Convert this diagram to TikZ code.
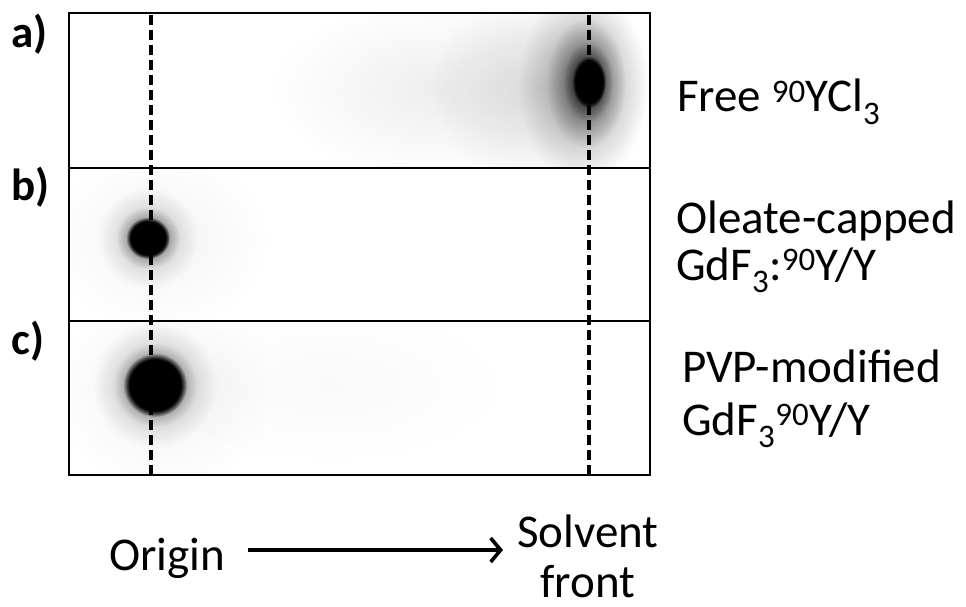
\documentclass[tikz,border=0pt]{standalone}
\usepackage{fontspec}
\setmainfont{Carlito}
\usetikzlibrary{fadings,arrows.meta}
\tikzfading[name=softfade, inner color=transparent!0, outer color=transparent!100]
\begin{document}
\begin{tikzpicture}[x=1pt,y=-1pt,
  lbl/.style={inner sep=0pt, anchor=base west, font=\fontsize{47}{56}\selectfont},
  tag/.style={inner sep=0pt, anchor=base west, font=\fontsize{45}{54}\selectfont\bfseries},
  frame/.style={line width=2.6pt},
  guide/.style={line width=3.6pt, dash pattern=on 10pt off 5pt},
  spot/.style={fill=black, path fading=circle with fuzzy edge 20 percent},
  halo/.style={fill=black, path fading=softfade}]
\useasboundingbox (0,0) rectangle (966,607);
% ---- panel a spots
\begin{scope}
  \clip (69,13) rectangle (650,168);
  \fill[halo, opacity=0.07] (440,90) ellipse (170 and 90);
  \fill[halo, opacity=0.12] (540,88) ellipse (110 and 100);
  \fill[halo, opacity=0.35] (583,85) ellipse (65 and 100);
  \fill[halo, opacity=0.6] (586,83) ellipse (40 and 65);
  \fill[halo, opacity=0.85] (588,82) ellipse (25 and 40);
  \fill[spot] (589,82) ellipse (17 and 26);
\end{scope}
% ---- panel b spots
\begin{scope}
  \clip (69,168) rectangle (650,321);
  \fill[halo, opacity=0.05] (160,240) ellipse (110 and 90);
  \fill[halo, opacity=0.25] (148,238) ellipse (50 and 50);
  \fill[halo, opacity=0.6] (148,238) ellipse (32 and 31);
  \fill[spot] (148,238) ellipse (22 and 21);
\end{scope}
% ---- panel c spots
\begin{scope}
  \clip (69,321) rectangle (650,475);
  \fill[halo, opacity=0.025] (330,385) ellipse (180 and 80);
  \fill[halo, opacity=0.06] (165,390) ellipse (110 and 100);
  \fill[halo, opacity=0.3] (155,385) ellipse (62 and 62);
  \fill[halo, opacity=0.6] (155,385) ellipse (42 and 42);
  \fill[spot] (155,385) ellipse (32 and 32);
\end{scope}
% ---- frame
\coordinate (tl) at (69,13);
\coordinate (br) at (650,475);
\coordinate (d1l) at (69,168);
\coordinate (d1r) at (650,168);
\coordinate (d2l) at (69,321);
\coordinate (d2r) at (650,321);
\draw[frame] (tl) rectangle (br);
\draw[frame] (d1l) -- (d1r);
\draw[frame] (d2l) -- (d2r);
% ---- guide lines
\coordinate (g1t) at (151,15);
\coordinate (g1b) at (151,474);
\coordinate (g2t) at (589,15);
\coordinate (g2b) at (589,474);
\draw[guide] (g1t) -- (g1b);
\draw[guide] (g2t) -- (g2b);
% ---- panel tags
\node[tag] (ta) at (11,48) {a)};
\node[tag] (tb) at (11,200) {b)};
\node[tag] (tc) at (11,354) {c)};
% ---- labels
\node[lbl] (la) at (677,112) {Free \textsuperscript{90}YCl\textsubscript{3}};
\node[lbl] (lb1) at (676,233) {Oleate-capped};
\node[lbl] (lb2) at (676,280) {GdF\textsubscript{3}:\textsuperscript{90}Y/Y};
\node[lbl] (lc1) at (682,382) {PVP-modified};
\node[lbl] (lc2) at (682,435) {GdF\textsubscript{3}\textsuperscript{90}Y/Y};
% ---- axis
\node[lbl] (origin) at (109,570) {Origin};
\node[lbl, anchor=base] (solv) at (588,547) {Solvent};
\node[lbl, anchor=base] (front) at (588,597) {front};
\coordinate (as) at (248,550);
\coordinate (ae) at (503,550);
\draw[line width=3.6pt, -{Straight Barb[length=10pt,width=24pt,line width=3.6pt]}] (as) -- (ae);
\end{tikzpicture}
\end{document}
